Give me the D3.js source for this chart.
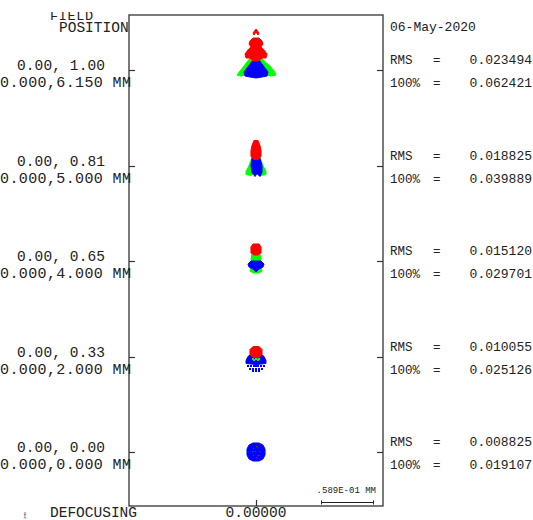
<!DOCTYPE html>
<html><head><meta charset="utf-8">
<script src="https://cdn.jsdelivr.net/npm/d3@7"></script>
<style>body{margin:0;background:#fff}svg{display:block}text{font-family:"Liberation Mono","DejaVu Sans Mono",monospace;fill:#222}</style>
</head><body><svg id="c" width="533" height="520"></svg>
<script>
// ---- data ----
const fieldAngles = ["0.00, 1.00","0.00, 0.81","0.00, 0.65","0.00, 0.33","0.00, 0.00"];
const fieldHeights = ["0.000,6.150 MM","0.000,5.000 MM","0.000,4.000 MM","0.000,2.000 MM","0.000,0.000 MM"];
const rmsValues = ["0.023494","0.018825","0.015120","0.010055","0.008825"];
const geoValues = ["0.062421","0.039889","0.029701","0.025126","0.019107"];
const defocus = ["0.00000"];
const dateText = "06-May-2020";
const scaleBarUm = 58.9; // .589E-01 MM
const scaleBarLabel = ".589E-01 MM";
const waveColors = {w1:"#0000ff", w2:"#00ff00", w3:"#ff0000"};
// spot outlines (microns, x right, y up, relative to chief ray) per field
const redShapes = [
  [[[-3.4,41.9],[0,46.4],[3.4,41.9],[2.3,39.6],[0,43.0],[-2.3,39.6]],
   [[-3.4,36.2],[3.4,36.2],[6.8,32.8],[7.9,29.5],[5.7,26.1],[9.1,22.7],[12.5,18.1],[11.3,13.6],[6.8,13.6],[3.4,10.2],[-3.4,10.2],[-6.8,13.6],[-11.3,13.6],[-12.5,18.1],[-9.1,22.7],[-5.7,26.1],[-7.9,29.5],[-6.8,32.8]]],
  [[[-2.3,28.3],[2.3,28.3],[4.5,22.7],[5.7,17.0],[5.7,10.2],[2.3,6.8],[-2.3,6.8],[-5.7,10.2],[-5.7,17.0],[-4.5,22.7]]],
  [[[-3.4,19.3],[3.4,19.3],[5.7,15.9],[5.7,9.1],[2.3,6.8],[-2.3,6.8],[-5.7,9.1],[-5.7,15.9]]],
  [[[-3.4,11.3],[3.4,11.3],[6.8,7.9],[6.8,2.3],[3.4,-1.1],[-3.4,-1.1],[-6.8,2.3],[-6.8,7.9]]],
  []
];
const greenShapes = [
  [[[-5.7,14.7],[5.7,14.7],[10.2,9.1],[15.9,4.5],[20.4,-1.1],[22.7,-5.7],[15.9,-6.8],[9.1,-4.5],[0,-6.8],[-9.1,-4.5],[-17.0,-6.8],[-21.5,-5.7],[-18.1,-1.1],[-13.6,4.5],[-10.2,9.1]]],
  [[[-4.5,10.2],[4.5,10.2],[5.7,5.7],[7.9,0],[11.3,-6.8],[11.3,-10.2],[5.7,-11.3],[0,-7.9],[-5.7,-11.3],[-11.3,-10.2],[-11.3,-6.8],[-7.9,0],[-5.7,5.7]]],
  [[[-4.5,7.9],[4.5,7.9],[5.7,2.3],[4.5,-2.3],[5.7,-6.8],[6.8,-11.3],[3.4,-13.6],[-3.4,-13.6],[-6.8,-11.3],[-5.7,-6.8],[-4.5,-2.3],[-5.7,2.3]]],
  [],
  []
];
const blueShapes = [
  [[[-3.4,11.3],[3.4,11.3],[6.8,6.8],[10.2,2.3],[13.6,-2.3],[12.5,-6.8],[6.8,-7.9],[0,-9.1],[-6.8,-7.9],[-12.5,-6.8],[-13.6,-2.3],[-10.2,2.3],[-6.8,6.8]]],
  [[[-4.5,7.9],[4.5,7.9],[6.8,0],[6.8,-7.9],[4.5,-12.5],[1.1,-9.1],[-1.1,-12.5],[-4.5,-7.9],[-5.7,0]]],
  [[[-5.7,0],[5.7,0],[9.1,-3.4],[7.9,-6.8],[3.4,-9.1],[0,-12.5],[-3.4,-9.1],[-7.9,-6.8],[-9.1,-3.4]]],
  [[[-4.5,3.4],[4.5,3.4],[9.1,0],[11.3,-4.5],[11.3,-7.9],[0,-9.1],[-11.3,-7.9],[-11.3,-4.5],[-9.1,0]]],
  [[[-3.4,10.2],[3.4,10.2],[7.9,7.9],[10.2,3.4],[10.2,-3.4],[7.9,-7.9],[3.4,-10.2],[-3.4,-10.2],[-7.9,-7.9],[-10.2,-3.4],[-10.2,3.4],[-7.9,7.9]]]
];
const bluePoints = [[],[],[],
  [[-9.1,-11.3],[-5.7,-11.3],[-2.3,-11.3],[0,-11.3],[2.3,-11.3],[5.7,-11.3],[9.1,-11.3],
   [-6.8,-13.6],[-3.4,-13.6],[0,-13.6],[3.4,-13.6],[6.8,-13.6],
   [-3.4,-15.9],[0,-15.9],[3.4,-15.9]],
  []];
const greenPoints = [[],[],[],
  [[-3.4,-2.3],[0,-2.3],[3.4,-2.3],[-2.3,-4.5],[2.3,-4.5]],
  []];
const redPoints = [[],[],[],[],
  [[-2.3,4.5],[1.1,5.7],[-4.5,1.1],[-1.1,1.1],[3.4,1.1],[-2.3,-3.4],[2.3,-3.4],[0,-5.7]]];

// ---- layout ----
const svg = d3.select("#c");
const frame = {x0:129, x1:383, y0:15, y1:506};
const yField = d3.scalePoint().domain(fieldAngles).range([70, 452]);
const xDef = d3.scalePoint().domain(defocus).range([frame.x0, frame.x1]).padding(0.5);
const um = d3.scaleLinear().domain([0, scaleBarUm]).range([0, 52]);

// frame
svg.append("rect").attr("x",frame.x0).attr("y",frame.y0)
  .attr("width",frame.x1-frame.x0).attr("height",frame.y1-frame.y0)
  .attr("fill","none").attr("stroke","#333").attr("stroke-width",1.3);

// ticks
fieldAngles.forEach(f=>{
  const y = Math.round(yField(f))+0.5;
  svg.append("line").attr("x1",frame.x0).attr("x2",frame.x0+6).attr("y1",y).attr("y2",y).attr("stroke","#333").attr("stroke-width",1.2);
  svg.append("line").attr("x1",frame.x1-6).attr("x2",frame.x1).attr("y1",y).attr("y2",y).attr("stroke","#333").attr("stroke-width",1.2);
});
defocus.forEach(d=>{
  const x = Math.round(xDef(d))+0.5;
  svg.append("line").attr("x1",x).attr("x2",x).attr("y1",frame.y1-6).attr("y2",frame.y1).attr("stroke","#333").attr("stroke-width",1.2);
  svg.append("text").attr("x",xDef(d)).attr("y",517).attr("text-anchor","middle").attr("font-size",14.5).text(d);
});

// spots
const line = d3.line().curve(d3.curveLinearClosed);
function drawShapes(shapes, color){
  shapes.forEach((list,i)=>{
    const cx = xDef(defocus[0]), cy = yField(fieldAngles[i]);
    list.forEach(poly=>{
      svg.append("path")
        .attr("d", line(poly.map(p=>[cx+um(p[0]), cy-um(p[1])])))
        .attr("fill",color).attr("stroke",color).attr("stroke-width",1).attr("stroke-linejoin","round");
    });
  });
}
function drawPoints(points, color, size){
  points.forEach((list,i)=>{
    const cx = xDef(defocus[0]), cy = yField(fieldAngles[i]);
    svg.append("g").selectAll("rect").data(list).join("rect")
      .attr("x",p=>Math.round(cx+um(p[0])-size/2)).attr("y",p=>Math.round(cy-um(p[1])-size/2))
      .attr("width",size).attr("height",size).attr("fill",color);
  });
}
drawShapes(greenShapes, waveColors.w2);
drawShapes(blueShapes, waveColors.w1);
drawPoints(bluePoints, waveColors.w1, 2);
drawPoints(greenPoints, waveColors.w2, 2);
drawShapes(redShapes, waveColors.w3);
drawPoints(redPoints, waveColors.w3, 1);

// left labels
svg.append("defs").append("clipPath").attr("id","clipF").append("rect").attr("x",0).attr("y",12).attr("width",140).attr("height",8);
svg.append("text").attr("x",50).attr("y",19.5).attr("font-size",13.5).attr("textLength",43).attr("clip-path","url(#clipF)").text("FIELD");
svg.append("text").attr("x",59).attr("y",32).attr("font-size",14.5).text("POSITION");
fieldAngles.forEach((f,i)=>{
  const y = yField(f);
  svg.append("text").attr("x",17).attr("y",y).attr("font-size",14.5).attr("textLength",88).text(f);
  svg.append("text").attr("x",0).attr("y",y+17).attr("font-size",15).attr("textLength",131).text(fieldHeights[i]);
});

// right labels
svg.append("text").attr("x",390).attr("y",31).attr("font-size",13).text(dateText);
fieldAngles.forEach((f,i)=>{
  const y = yField(f);
  svg.append("text").attr("x",390).attr("y",y-6).attr("font-size",12.5).text("RMS");
  svg.append("text").attr("x",433).attr("y",y-6).attr("font-size",12.5).text("=");
  svg.append("text").attr("x",532).attr("y",y-6).attr("font-size",13).attr("text-anchor","end").text(rmsValues[i]);
  svg.append("text").attr("x",390).attr("y",y+17).attr("font-size",12.5).text("100%");
  svg.append("text").attr("x",433).attr("y",y+17).attr("font-size",12.5).text("=");
  svg.append("text").attr("x",532).attr("y",y+17).attr("font-size",13).attr("text-anchor","end").text(geoValues[i]);
});

// scale bar
const sbx = 321, sby = 502.5;
svg.append("text").attr("x",376).attr("y",493).attr("text-anchor","end").attr("font-size",9).text(scaleBarLabel);
svg.append("line").attr("x1",sbx).attr("x2",sbx+um(scaleBarUm)).attr("y1",sby).attr("y2",sby).attr("stroke","#222").attr("stroke-width",1.2);
[sbx, sbx+um(scaleBarUm)].forEach(x=>svg.append("line").attr("x1",x+0.5).attr("x2",x+0.5).attr("y1",sby-2).attr("y2",sby+2).attr("stroke","#222"));

// bottom labels
svg.append("text").attr("x",50).attr("y",517).attr("font-size",14.5).text("DEFOCUSING");
svg.append("text").attr("transform","translate(26,519) rotate(-90)").attr("font-size",4).attr("fill","#666").text("ZMX");
</script></body></html>
